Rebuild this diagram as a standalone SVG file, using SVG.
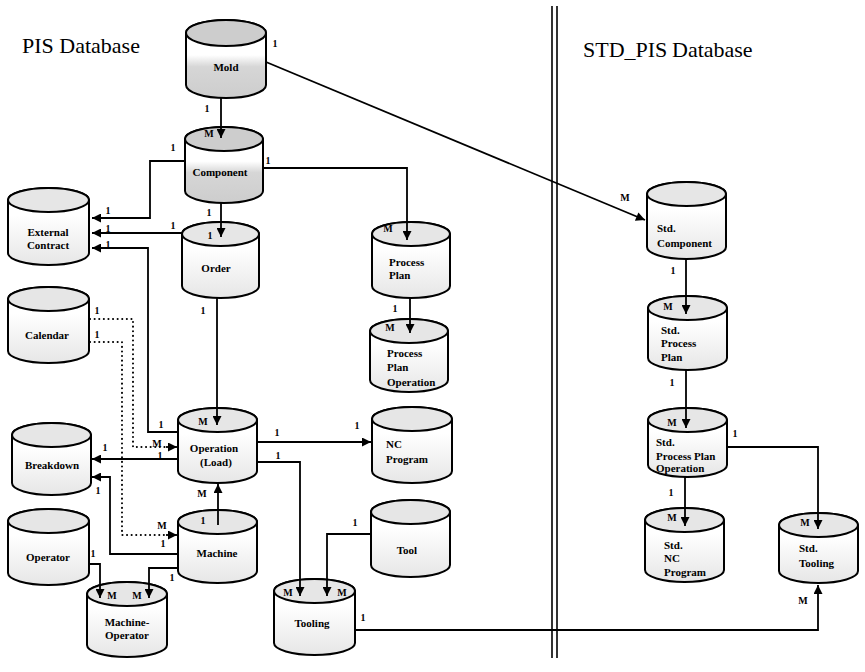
<svg xmlns="http://www.w3.org/2000/svg" width="865" height="672" viewBox="0 0 865 672">
<style>
.cyl .b{stroke:#000;stroke-width:2;fill:url(#gL)}
.cyl .t{stroke:#000;stroke-width:2;fill:#e6e6e6}
.dk .b{fill:url(#gD)}
.dk .t{fill:#cdcdcd}
.lbl{font-family:'Liberation Serif','Times New Roman','DejaVu Serif',serif;font-weight:bold;font-size:11px;text-anchor:middle;fill:#000}
.ll{text-anchor:start}
.m{font-family:'Liberation Serif','Times New Roman','DejaVu Serif',serif;font-weight:bold;font-size:10px;text-anchor:middle;fill:#000}
.title{font-family:'Liberation Serif','Times New Roman','DejaVu Serif',serif;font-size:22px;fill:#000}
.c{fill:none;stroke:#000;stroke-width:1.8}
.d{fill:none;stroke:#000;stroke-width:2;stroke-dasharray:0.1 4.5;stroke-linecap:round}
.div{stroke:#000;stroke-width:1.6}
</style>
<defs>
<linearGradient id="gL" x1="0" y1="0" x2="0" y2="1">
<stop offset="0.35" stop-color="#fff"/><stop offset="1" stop-color="#e6e6e6"/>
</linearGradient>
<linearGradient id="gD" x1="0" y1="0" x2="0" y2="1">
<stop offset="0.45" stop-color="#fff"/><stop offset="0.6" stop-color="#d6d6d6"/><stop offset="1" stop-color="#cdcdcd"/>
</linearGradient>
<marker id="ah" viewBox="0 0 10 10" refX="10" refY="5" markerWidth="10" markerHeight="9" markerUnits="userSpaceOnUse" orient="auto">
<path d="M0,0 L10,5 L0,10 z" fill="#000"/>
</marker>
</defs>
<rect width="865" height="672" fill="#fff"/>

<text class="title" x="22" y="53">PIS Database</text>
<text class="title" x="583" y="57">STD_PIS<tspan x="672">Database</tspan></text>
<g id="divider">
<line class="div" x1="552" y1="6" x2="552" y2="658"/>
<line class="div" x1="557" y1="6" x2="557" y2="658"/>
</g>

<g id="mold" class="cyl dk">
<path class="b" d="M186,33 V85 A40,13 0 0 0 266,85 V33 A40,13 0 0 0 186,33 Z"/>
<ellipse class="t" cx="226" cy="33" rx="40" ry="13"/>
<text class="lbl" x="226" y="71">Mold</text>
</g>
<g id="component" class="cyl dk">
<path class="b" d="M185,139 V191 A39,12 0 0 0 263,191 V139 A39,12 0 0 0 185,139 Z"/>
<ellipse class="t" cx="224" cy="139" rx="39" ry="12"/>
<text class="lbl" x="220" y="176">Component</text>
</g>
<g id="external-contract" class="cyl">
<path class="b" d="M8,200 V253 A40.5,12 0 0 0 89,253 V200 A40.5,12 0 0 0 8,200 Z"/>
<ellipse class="t" cx="48.5" cy="200" rx="40.5" ry="12"/>
<text class="lbl" x="48" y="236">External</text>
<text class="lbl" x="48" y="249">Contract</text>
</g>
<g id="order" class="cyl">
<path class="b" d="M182,234 V286 A38.5,12 0 0 0 259,286 V234 A38.5,12 0 0 0 182,234 Z"/>
<ellipse class="t" cx="220.5" cy="234" rx="38.5" ry="12"/>
<text class="lbl" x="216" y="272">Order</text>
</g>
<g id="process-plan" class="cyl">
<path class="b" d="M372,234 V286 A39,12 0 0 0 450,286 V234 A39,12 0 0 0 372,234 Z"/>
<ellipse class="t" cx="411" cy="234" rx="39" ry="12"/>
<text class="lbl ll" x="389" y="266">Process</text>
<text class="lbl ll" x="389" y="279">Plan</text>
</g>
<g id="process-plan-operation" class="cyl">
<path class="b" d="M370,331 V380 A39,12 0 0 0 448,380 V331 A39,12 0 0 0 370,331 Z"/>
<ellipse class="t" cx="409" cy="331" rx="39" ry="12"/>
<text class="lbl ll" x="387" y="357">Process</text>
<text class="lbl ll" x="387" y="371">Plan</text>
<text class="lbl ll" x="387" y="386">Operation</text>
</g>
<g id="calendar" class="cyl">
<path class="b" d="M8,299 V351 A40.5,12 0 0 0 89,351 V299 A40.5,12 0 0 0 8,299 Z"/>
<ellipse class="t" cx="48.5" cy="299" rx="40.5" ry="12"/>
<text class="lbl" x="47" y="339">Calendar</text>
</g>
<g id="operation" class="cyl">
<path class="b" d="M178,420 V471 A39.5,12 0 0 0 257,471 V420 A39.5,12 0 0 0 178,420 Z"/>
<ellipse class="t" cx="217.5" cy="420" rx="39.5" ry="12"/>
<text class="lbl" x="214" y="452">Operation</text>
<text class="lbl" x="216" y="466">(Load)</text>
</g>
<g id="nc-program" class="cyl">
<path class="b" d="M372,419 V471 A40,12 0 0 0 452,471 V419 A40,12 0 0 0 372,419 Z"/>
<ellipse class="t" cx="412" cy="419" rx="40" ry="12"/>
<text class="lbl ll" x="386" y="448">NC</text>
<text class="lbl ll" x="386" y="463">Program</text>
</g>
<g id="breakdown" class="cyl">
<path class="b" d="M12,435 V483 A39.5,12 0 0 0 91,483 V435 A39.5,12 0 0 0 12,435 Z"/>
<ellipse class="t" cx="51.5" cy="435" rx="39.5" ry="12"/>
<text class="lbl" x="52" y="469">Breakdown</text>
</g>
<g id="machine" class="cyl">
<path class="b" d="M178,522 V571 A39.5,12 0 0 0 257,571 V522 A39.5,12 0 0 0 178,522 Z"/>
<ellipse class="t" cx="217.5" cy="522" rx="39.5" ry="12"/>
<text class="lbl" x="217" y="557">Machine</text>
</g>
<g id="operator" class="cyl">
<path class="b" d="M8,521 V573 A40.5,12 0 0 0 89,573 V521 A40.5,12 0 0 0 8,521 Z"/>
<ellipse class="t" cx="48.5" cy="521" rx="40.5" ry="12"/>
<text class="lbl" x="48" y="561">Operator</text>
</g>
<g id="tool" class="cyl">
<path class="b" d="M371,512 V565 A39.5,12 0 0 0 450,565 V512 A39.5,12 0 0 0 371,512 Z"/>
<ellipse class="t" cx="410.5" cy="512" rx="39.5" ry="12"/>
<text class="lbl" x="407" y="554">Tool</text>
</g>
<g id="machine-operator" class="cyl">
<path class="b" d="M87,594 V645 A40,12 0 0 0 167,645 V594 A40,12 0 0 0 87,594 Z"/>
<ellipse class="t" cx="127" cy="594" rx="40" ry="12"/>
<text class="lbl" x="127" y="626">Machine-</text>
<text class="lbl" x="127" y="639">Operator</text>
</g>
<g id="tooling" class="cyl">
<path class="b" d="M274,591 V643 A40.5,12 0 0 0 355,643 V591 A40.5,12 0 0 0 274,591 Z"/>
<ellipse class="t" cx="314.5" cy="591" rx="40.5" ry="12"/>
<text class="lbl" x="312" y="627">Tooling</text>
</g>
<g id="std-component" class="cyl">
<path class="b" d="M647,194 V247 A39.5,12 0 0 0 726,247 V194 A39.5,12 0 0 0 647,194 Z"/>
<ellipse class="t" cx="686.5" cy="194" rx="39.5" ry="12"/>
<text class="lbl ll" x="657" y="232">Std.</text>
<text class="lbl ll" x="657" y="247">Component</text>
</g>
<g id="std-process-plan" class="cyl">
<path class="b" d="M648,308 V358 A39.5,12 0 0 0 727,358 V308 A39.5,12 0 0 0 648,308 Z"/>
<ellipse class="t" cx="687.5" cy="308" rx="39.5" ry="12"/>
<text class="lbl ll" x="661" y="334">Std.</text>
<text class="lbl ll" x="661" y="347">Process</text>
<text class="lbl ll" x="661" y="361">Plan</text>
</g>
<g id="std-process-plan-operation" class="cyl">
<path class="b" d="M648,420 V465 A39.5,12 0 0 0 727,465 V420 A39.5,12 0 0 0 648,420 Z"/>
<ellipse class="t" cx="687.5" cy="420" rx="39.5" ry="12"/>
<text class="lbl ll" x="656" y="446">Std.</text>
<text class="lbl ll" x="656" y="460">Process Plan</text>
<text class="lbl ll" x="656" y="472">Operation</text>
</g>
<g id="std-nc-program" class="cyl">
<path class="b" d="M645,520 V570 A39.5,12 0 0 0 724,570 V520 A39.5,12 0 0 0 645,520 Z"/>
<ellipse class="t" cx="684.5" cy="520" rx="39.5" ry="12"/>
<text class="lbl ll" x="664" y="549">Std.</text>
<text class="lbl ll" x="664" y="562">NC</text>
<text class="lbl ll" x="664" y="576">Program</text>
</g>
<g id="std-tooling" class="cyl">
<path class="b" d="M779,525 V571 A39.5,12 0 0 0 858,571 V525 A39.5,12 0 0 0 779,525 Z"/>
<ellipse class="t" cx="818.5" cy="525" rx="39.5" ry="12"/>
<text class="lbl ll" x="799" y="552">Std.</text>
<text class="lbl ll" x="799" y="567">Tooling</text>
</g>

<g id="connectors">
<path class="c" d="M221,98 V138" marker-end="url(#ah)"/>
<path class="c" d="M266,62 L645,220" marker-end="url(#ah)"/>
<path class="c" d="M185,161 H150 V218 H92" marker-end="url(#ah)"/>
<path class="c" d="M263,168 H407 V240" marker-end="url(#ah)"/>
<path class="c" d="M221,203 V237" marker-end="url(#ah)"/>
<path class="c" d="M182,233 H92" marker-end="url(#ah)"/>
<path class="c" d="M178,432 H148 V248 H92" marker-end="url(#ah)"/>
<path class="c" d="M217,298 V425" marker-end="url(#ah)"/>
<path class="d" d="M90,319 H133 V447 H168"/>
<path class="c" d="M166,447 H177" marker-end="url(#ah)"/>
<path class="d" d="M90,342 H122 V535 H168"/>
<path class="c" d="M166,535 H177" marker-end="url(#ah)"/>
<path class="c" d="M178,459 H92" marker-end="url(#ah)"/>
<path class="c" d="M178,554 H110 V477 H92" marker-end="url(#ah)"/>
<path class="c" d="M218,525 V484" marker-end="url(#ah)"/>
<path class="c" d="M257,442 H371" marker-end="url(#ah)"/>
<path class="c" d="M257,462 H300 V596" marker-end="url(#ah)"/>
<path class="c" d="M371,534 H327 V596" marker-end="url(#ah)"/>
<path class="c" d="M89,564 H100 V598" marker-end="url(#ah)"/>
<path class="c" d="M178,568 H149 V598" marker-end="url(#ah)"/>
<path class="c" d="M355,630 H818 V585" marker-end="url(#ah)"/>
<path class="c" d="M410,298 V333" marker-end="url(#ah)"/>
<path class="c" d="M686,259 V314" marker-end="url(#ah)"/>
<path class="c" d="M686,370 V428" marker-end="url(#ah)"/>
<path class="c" d="M685,477 V526" marker-end="url(#ah)"/>
<path class="c" d="M727,447 H818 V529" marker-end="url(#ah)"/>
</g>

<g id="multiplicities">
<text class="m" x="275" y="47">1</text>
<text class="m" x="207" y="112">1</text>
<text class="m" x="209" y="137">M</text>
<text class="m" x="173" y="151">1</text>
<text class="m" x="108" y="214">1</text>
<text class="m" x="268" y="164">1</text>
<text class="m" x="209" y="216">1</text>
<text class="m" x="173" y="229">1</text>
<text class="m" x="108" y="232">1</text>
<text class="m" x="210" y="239">1</text>
<text class="m" x="108" y="248">1</text>
<text class="m" x="388" y="232">M</text>
<text class="m" x="395" y="312">1</text>
<text class="m" x="390" y="331">M</text>
<text class="m" x="203" y="314">1</text>
<text class="m" x="203" y="425">M</text>
<text class="m" x="161" y="428">1</text>
<text class="m" x="97" y="314">1</text>
<text class="m" x="97" y="338">1</text>
<text class="m" x="157" y="447">M</text>
<text class="m" x="160" y="459">1</text>
<text class="m" x="105" y="451">1</text>
<text class="m" x="98" y="494">1</text>
<text class="m" x="202" y="497">M</text>
<text class="m" x="203" y="524">1</text>
<text class="m" x="162" y="529">M</text>
<text class="m" x="163" y="547">1</text>
<text class="m" x="93" y="557">1</text>
<text class="m" x="172" y="581">1</text>
<text class="m" x="112" y="599">M</text>
<text class="m" x="137" y="599">M</text>
<text class="m" x="277" y="436">1</text>
<text class="m" x="357" y="429">1</text>
<text class="m" x="278" y="459">1</text>
<text class="m" x="355" y="526">1</text>
<text class="m" x="288" y="596">M</text>
<text class="m" x="342" y="596">M</text>
<text class="m" x="363" y="621">1</text>
<text class="m" x="625" y="201">M</text>
<text class="m" x="673" y="274">1</text>
<text class="m" x="668" y="310">M</text>
<text class="m" x="672" y="386">1</text>
<text class="m" x="672" y="426">M</text>
<text class="m" x="735" y="437">1</text>
<text class="m" x="671" y="496">1</text>
<text class="m" x="672" y="521">M</text>
<text class="m" x="805" y="526">M</text>
<text class="m" x="803" y="604">M</text>
</g>
</svg>
